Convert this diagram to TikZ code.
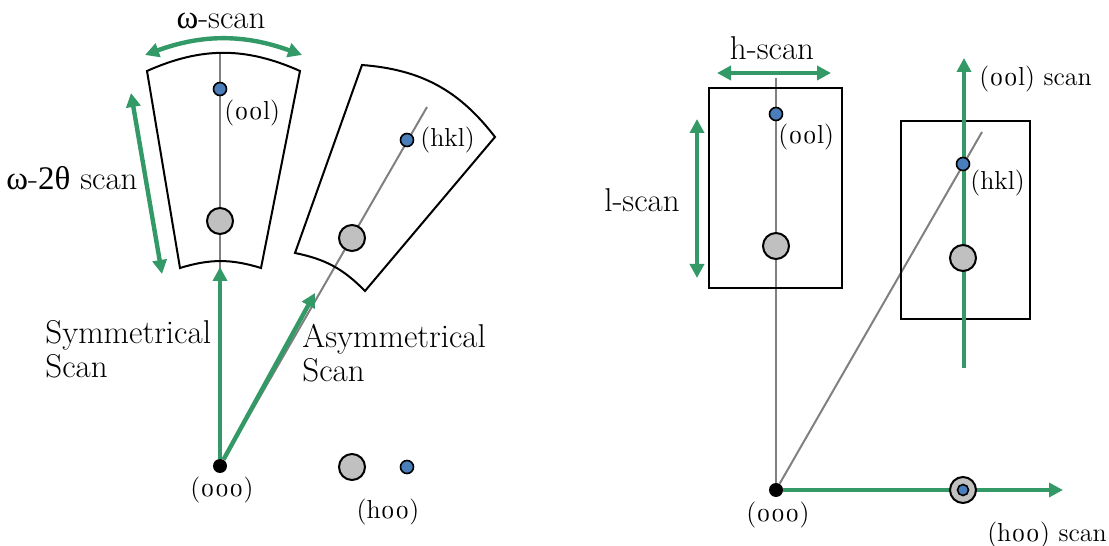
\documentclass[tikz,border=0pt]{standalone}
\usepackage{fontspec}
\setmainfont{Latin Modern Roman}[Numbers=OldStyle]
\newfontfamily\grk{Liberation Serif}
\usetikzlibrary{arrows.meta}
\definecolor{scangreen}{RGB}{51,153,102}
\definecolor{spotblue}{RGB}{74,126,187}
\definecolor{peakgray}{RGB}{192,192,192}

\begin{document}
\begin{tikzpicture}[x=0.5pt, y=0.5pt,
  sector/.style={draw, line width=1pt, line join=miter},
  rod/.style={draw=gray, line width=1pt},
  scan/.style={draw=scangreen, line width=2.2pt, -{Triangle[length=7pt,width=7pt]}},
  scanboth/.style={scan, {Triangle[length=7pt,width=7pt]}-{Triangle[length=7pt,width=7pt]}},
  peak/.style={circle, draw, line width=1pt, fill=peakgray, minimum size=13pt, inner sep=0pt},
  spot/.style={circle, draw, line width=0.8pt, fill=spotblue, minimum size=6.5pt, inner sep=0pt},
  zerodot/.style={circle, fill=black, minimum size=7pt, inner sep=0pt},
  lbl/.style={font=\fontsize{16.5}{17}\selectfont, inner sep=0pt},
  idx/.style={font=\fontsize{13}{15}\selectfont, inner sep=0pt}]
  \useasboundingbox (0,0) rectangle (1109,546);

  % left half: omega and omega-2theta scans
  \node[zerodot] (o1) at (220,80) {};
  \node[idx] (o1lab) at (222,56) {(000)};
  \coordinate (symtop) at (220,493);
  \coordinate (asymtop) at (427,439);
  \draw[rod] (o1) -- (symtop);
  \draw[rod] (o1) -- (asymtop);
  \draw[sector] (180,278) -- (147,475) to[bend left=24] (300,475) -- (261,278) to[bend right=17] cycle;
  \draw[sector] (295,293) -- (362,481) to[bend left=24] (495,409) -- (365,255) to[bend right=17] cycle;
  \coordinate (symtip) at (220,279);
  \coordinate (asymtip) at (315,253);
  \draw[scan] (o1) -- (symtip);
  \draw[scan] (o1) -- (asymtip);
  \coordinate (wl) at (145,491);
  \coordinate (wr) at (302,491);
  \draw[scanboth] (wl) to[bend left=20] (wr);
  \coordinate (ttop) at (131,453);
  \coordinate (tbot) at (162,272);
  \draw[scanboth] (ttop) -- (tbot);
  \node[lbl] (wlab) at (221,525) {{\grk ω}-scan};
  \node[lbl, anchor=east] (ttlab) at (138,368) {{\grk ω}-{\grk 2θ} scan};
  \node[lbl, anchor=west, align=left] (symlab) at (45,197) {Symmetrical\\Scan};
  \node[lbl, anchor=west, align=left] (asymlab) at (302,193) {Asymmetrical\\Scan};
  \node[spot] (s00l) at (220,457) {};
  \node[idx, anchor=west] (s00llab) at (224,433) {(00l)};
  \node[peak] (p00l) at (220,325) {};
  \node[spot] (shkl) at (407,406) {};
  \node[idx, anchor=west] (shkllab) at (420,406) {(hkl)};
  \node[peak] (phkl) at (352,308) {};
  \node[peak] (ph00) at (352,79) {};
  \node[spot] (sh00) at (407,79) {};
  \node[idx] (sh00lab) at (388,34) {(h00)};

  % right half: h, l and rod scans
  \node[zerodot] (o2) at (776,56) {};
  \node[idx] (o2lab) at (778,31) {(000)};
  \coordinate (rtop) at (776,468);
  \coordinate (rdiag) at (982,414);
  \draw[rod] (o2) -- (rtop);
  \draw[rod] (o2) -- (rdiag);
  \draw[sector] (709,258) rectangle (842,458);
  \draw[sector] (901,227) rectangle (1030,425);
  \coordinate (lbot) at (964,178);
  \coordinate (ltip) at (964,488);
  \draw[scan] (lbot) -- (ltip);
  \coordinate (htip) at (1063,56);
  \draw[scan] (o2) -- (htip);
  \coordinate (hl) at (717,473);
  \coordinate (hr) at (831,473);
  \draw[scanboth] (hl) -- (hr);
  \coordinate (lt) at (697,427);
  \coordinate (lb) at (697,268);
  \draw[scanboth] (lt) -- (lb);
  \node[lbl] (hlab) at (772,498) {h-scan};
  \node[lbl] (llab) at (642,346) {l-scan};
  \node[idx, anchor=west] (rodlab) at (979,467) {(00l) scan};
  \node[idx] (h00lab) at (1047,11) {(h00) scan};
  \node[spot] (r00l) at (776,432) {};
  \node[idx, anchor=west] (r00llab) at (778,409) {(00l)};
  \node[peak] (q00l) at (776,300) {};
  \node[spot] (rhkl) at (963,382) {};
  \node[idx, anchor=west] (rhkllab) at (970,363) {(hkl)};
  \node[peak] (qhkl) at (963,288) {};
  \node[peak] (qh00) at (963,56) {};
  \node[spot, minimum size=5.5pt] (rh00) at (963,56) {};
\end{tikzpicture}
\end{document}
